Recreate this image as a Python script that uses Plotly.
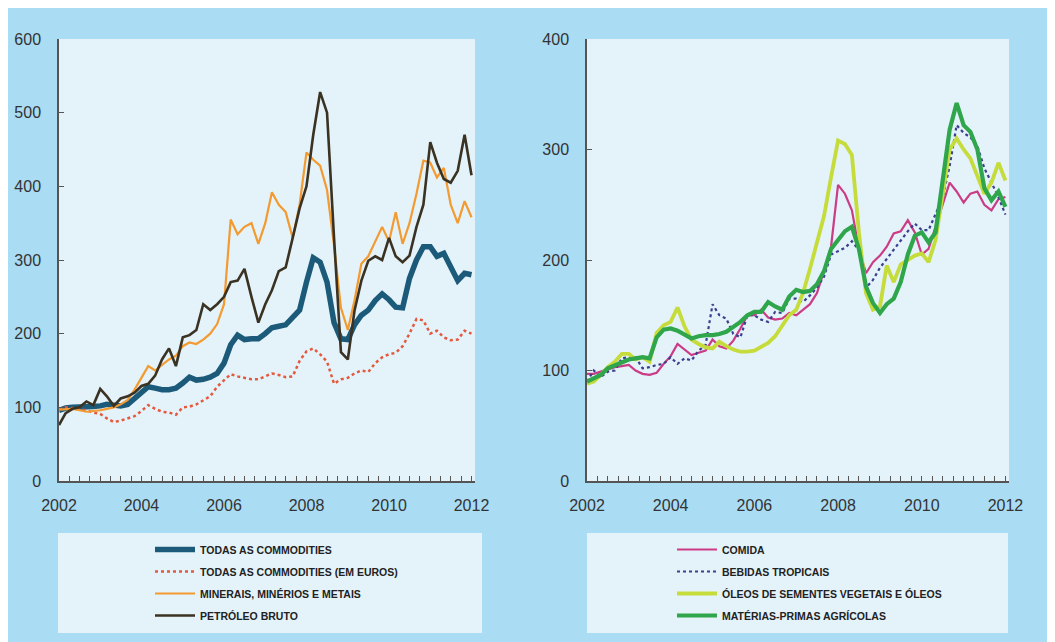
import pandas as pd
import plotly.graph_objects as go

# Bimonthly observations, Jan 2002 .. Jan 2012 (index 2002 = 100)
dates = pd.date_range("2002-01-01", periods=61, freq="2MS")

todas = [96, 99, 100, 100, 100, 101, 102, 104, 103, 102, 104, 112, 120, 128, 126, 124, 124, 126, 133, 141,
         137, 138, 141, 146, 160, 185, 198, 192, 193, 193, 200, 208, 210, 212, 222, 232, 270, 303, 297, 270,
         215, 193, 192, 212, 225, 232, 245, 254, 246, 236, 235, 275, 300, 318, 318, 305, 309, 292, 272, 282, 280]
todas_euro = [98, 100, 99, 98, 96, 93, 91, 85, 80, 82, 85, 88, 95, 103, 98, 94, 93, 90, 100, 101,
              104, 109, 115, 128, 137, 145, 142, 140, 138, 138, 142, 146, 144, 141, 142, 163, 176, 180, 172, 162,
              132, 138, 140, 146, 150, 148, 160, 168, 172, 174, 183, 200, 220, 218, 200, 204, 195, 191, 192, 204, 200]
minerais = [97, 97, 98, 96, 94, 95, 96, 98, 100, 104, 110, 124, 140, 156, 150, 157, 165, 170, 183, 188,
            186, 192, 200, 213, 240, 355, 335, 345, 350, 322, 350, 392, 375, 365, 330, 375, 446, 436, 428, 395,
            320, 235, 205, 245, 295, 305, 325, 345, 325, 365, 322, 350, 390, 435, 432, 412, 425, 375, 350, 380, 358]
petroleo = [76, 92, 98, 100, 108, 103, 125, 115, 102, 112, 115, 120, 129, 132, 143, 165, 180, 156, 195, 198,
            205, 240, 232, 240, 250, 270, 272, 288, 250, 215, 240, 259, 285, 290, 330, 370, 400, 470, 528, 500,
            330, 175, 165, 231, 272, 299, 305, 300, 330, 305, 297, 306, 345, 375, 460, 432, 410, 405, 421, 470, 415]

comida = [97, 97, 99, 101, 103, 104, 105, 100, 97, 96, 98, 106, 113, 124, 119, 114, 116, 118, 128, 122,
          120, 127, 138, 150, 150, 155, 148, 146, 147, 152, 150, 155, 160, 170, 190, 212, 268, 260, 245, 210,
          188, 198, 204, 212, 224, 226, 236, 225, 205, 210, 230, 250, 270, 262, 252, 260, 262, 250, 245, 255, 257]
bebidas = [90, 100, 94, 99, 100, 111, 112, 112, 102, 103, 105, 106, 112, 106, 111, 109, 118, 123, 160, 150,
           147, 133, 130, 150, 150, 146, 144, 153, 152, 165, 165, 162, 168, 175, 185, 205, 208, 211, 217, 209,
           175, 182, 193, 201, 209, 218, 226, 233, 227, 227, 241, 256, 285, 322, 315, 311, 303, 283, 270, 257, 241]
oleos = [88, 90, 96, 103, 108, 115, 115, 110, 112, 108, 134, 141, 144, 157, 140, 128, 124, 121, 120, 126,
         122, 119, 117, 117, 118, 121, 125, 131, 140, 150, 155, 170, 192, 215, 240, 275, 308, 305, 295, 225,
         170, 155, 158, 195, 180, 196, 200, 204, 206, 198, 218, 260, 300, 310, 300, 292, 276, 260, 270, 288, 272]
agricolas = [90, 93, 96, 102, 105, 108, 110, 111, 112, 111, 130, 137, 138, 136, 132, 129, 131, 132, 132, 133,
             135, 139, 144, 150, 153, 153, 162, 158, 155, 167, 173, 171, 172, 178, 190, 210, 218, 226, 230, 210,
             176, 161, 152, 160, 165, 180, 205, 222, 225, 216, 225, 270, 318, 342, 322, 316, 300, 265, 254, 262, 248]

left_names = ["TODAS AS COMMODITIES", "TODAS AS COMMODITIES (EM EUROS)",
              "MINERAIS, MINÉRIOS E METAIS", "PETRÓLEO BRUTO"]
right_names = ["COMIDA", "BEBIDAS TROPICAIS",
               "ÓLEOS DE SEMENTES VEGETAIS E ÓLEOS", "MATÉRIAS-PRIMAS AGRÍCOLAS"]

W, H = 1055, 642
OFF = 8  # page body margin offset seen in the screenshot
BLUE_BG = "#aadcf3"
PANEL = "#e4f3fa"
AX = "#555555"
FONT = "Liberation Sans, Arial, sans-serif"

fig = go.Figure()

left_styles = [
    dict(color="#1c5a7a", width=5.5),
    dict(color="#e4583d", width=2.5, dash="dot"),
    dict(color="#f39a30", width=2.2),
    dict(color="#3a3222", width=2.6),
]
for name, vals, st in zip(left_names, [todas, todas_euro, minerais, petroleo], left_styles):
    fig.add_trace(go.Scatter(x=dates, y=vals, mode="lines", name="<b>" + name + "</b>",
                             line=st, xaxis="x", yaxis="y", legend="legend",
                             legendgroup=name))

right_styles = [
    dict(color="#cc3b85", width=2.2),
    dict(color="#3b3f8e", width=2.2, dash="dot"),
    dict(color="#c5dc3b", width=3.8),
    dict(color="#2fa64b", width=4.2),
]
for name, vals, st in zip(right_names, [comida, bebidas, oleos, agricolas], right_styles):
    fig.add_trace(go.Scatter(x=dates, y=vals, mode="lines", name="<b>" + name + "</b>",
                             line=st, xaxis="x2", yaxis="y2", legend="legend2",
                             legendgroup=name))

def px_x(p):
    return (p - OFF) / W

def px_y(p):
    return 1 - (p - OFF) / H

xcommon = dict(
    type="date", range=["2002-01-01", "2012-02-01"], tick0="2002-01-01", dtick="M24",
    tickformat="%Y", showline=True, linecolor=AX, linewidth=1.5, ticks="inside",
    ticklen=5, tickcolor=AX, showgrid=False, zeroline=False, automargin=False,
    tickfont=dict(family=FONT, size=16, color="#333333"),
    minor=dict(dtick="M3", ticks="inside", ticklen=5, tickcolor=AX, showgrid=False),
    fixedrange=True, ticklabelstandoff=9,
)
ycommon = dict(
    showline=True, linecolor=AX, linewidth=1.5, ticks="inside", ticklen=5, tickcolor=AX,
    showgrid=False, zeroline=False, automargin=False,
    tickfont=dict(family=FONT, size=16, color="#333333"),
    ticklabelstandoff=13,
)

legend_common = dict(xanchor="left", yanchor="top", bgcolor="rgba(0,0,0,0)",
                     traceorder="grouped", tracegroupgap=3,
                     font=dict(family=FONT, size=10.5, color="#222222"), itemwidth=40)

fig.update_layout(
    width=W, height=H, autosize=False,
    margin=dict(l=0, r=0, t=0, b=0, autoexpand=False),
    paper_bgcolor=BLUE_BG, plot_bgcolor=PANEL,
    xaxis=dict(domain=[px_x(59), px_x(475)], anchor="y", **xcommon),
    yaxis=dict(domain=[px_y(481), px_y(39)], anchor="x", range=[0, 600], dtick=100, **ycommon),
    xaxis2=dict(domain=[px_x(587), px_x(1009)], anchor="y2", **xcommon),
    yaxis2=dict(domain=[px_y(481), px_y(39)], anchor="x2", range=[0, 400], dtick=100, **ycommon),
    showlegend=True,
    legend=dict(x=px_x(150), y=px_y(535), **legend_common),
    legend2=dict(x=px_x(672), y=px_y(535), **legend_common),
    shapes=[
        dict(type="rect", xref="paper", yref="paper", x0=px_x(58), x1=px_x(482),
             y0=px_y(633), y1=px_y(533), fillcolor=PANEL, line=dict(width=0), layer="below"),
        dict(type="rect", xref="paper", yref="paper", x0=px_x(587), x1=px_x(1008),
             y0=px_y(633), y1=px_y(533), fillcolor=PANEL, line=dict(width=0), layer="below"),
    ],
)

fig.write_html("out.html")
